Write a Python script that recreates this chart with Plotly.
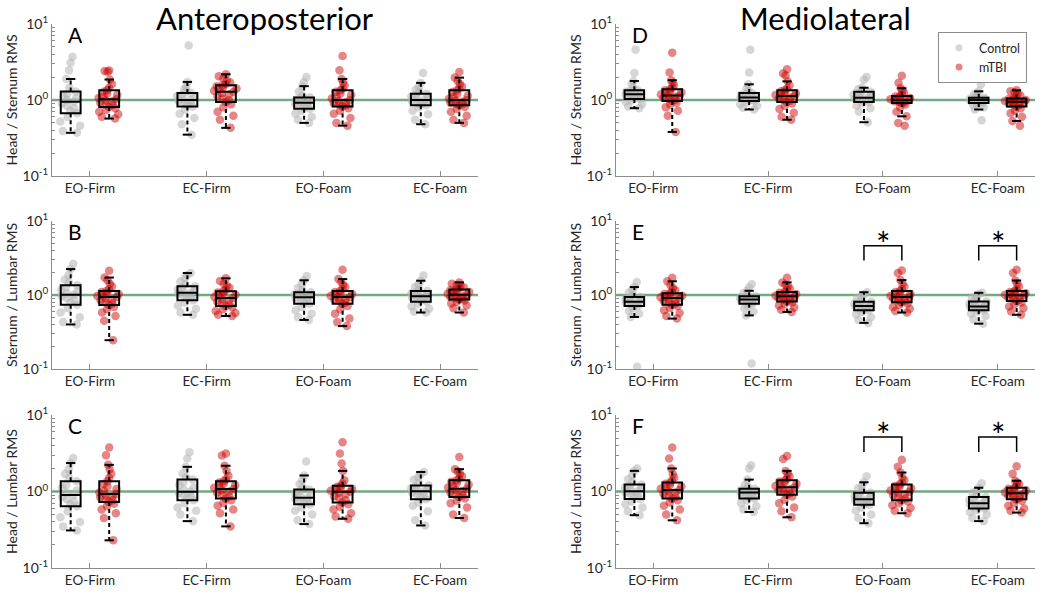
import numpy as np
import plotly.graph_objects as go

conditions = ["EO-Firm", "EC-Firm", "EO-Foam", "EC-Foam"]
groups = ["Control", "mTBI"]
panel_letters = ["A", "B", "C", "D", "E", "F"]
row_titles = ["Head / Sternum RMS", "Sternum / Lumbar RMS", "Head / Lumbar RMS"]
col_titles = ["Anteroposterior", "Mediolateral"]

# ---- Anteroposterior ----
A_control = [
    [0.37, 0.39, 0.46, 0.52, 0.6, 0.67, 0.72, 0.78, 0.84, 0.9, 0.95, 1.0, 1.06, 1.12, 1.2, 1.29, 1.45, 1.89, 2.47, 3.1, 3.7],
    [0.35, 0.48, 0.58, 0.66, 0.75, 0.82, 0.86, 0.9, 0.94, 0.97, 1.0, 1.03, 1.07, 1.12, 1.18, 1.24, 1.3, 1.38, 1.5, 1.73, 5.2],
    [0.5, 0.55, 0.6, 0.66, 0.72, 0.77, 0.8, 0.83, 0.86, 0.89, 0.92, 0.95, 0.98, 1.01, 1.04, 1.08, 1.15, 1.28, 1.52, 1.72, 2.0],
    [0.48, 0.55, 0.65, 0.72, 0.8, 0.85, 0.88, 0.91, 0.94, 0.97, 1.0, 1.03, 1.07, 1.11, 1.16, 1.21, 1.28, 1.36, 1.5, 1.68, 2.27],
]
A_mtbi = [
    [0.57, 0.6, 0.65, 0.7, 0.74, 0.78, 0.81, 0.85, 0.88, 0.92, 0.96, 0.99, 1.02, 1.06, 1.1, 1.16, 1.22, 1.28, 1.34, 1.45, 1.62, 1.86, 2.36, 2.4, 2.44],
    [0.43, 0.55, 0.62, 0.7, 0.8, 0.88, 0.94, 0.99, 1.05, 1.12, 1.18, 1.23, 1.28, 1.32, 1.37, 1.42, 1.47, 1.52, 1.56, 1.62, 1.7, 1.8, 1.92, 2.05, 2.18],
    [0.46, 0.5, 0.58, 0.66, 0.72, 0.78, 0.82, 0.85, 0.88, 0.91, 0.94, 0.97, 1.0, 1.05, 1.1, 1.16, 1.22, 1.28, 1.34, 1.42, 1.55, 1.7, 1.89, 2.47, 3.8],
    [0.5, 0.55, 0.62, 0.7, 0.76, 0.81, 0.85, 0.88, 0.9, 0.93, 0.95, 0.98, 1.0, 1.04, 1.09, 1.14, 1.2, 1.27, 1.34, 1.42, 1.5, 1.62, 1.78, 1.97, 2.34],
]
B_control = [
    [0.4, 0.43, 0.5, 0.58, 0.66, 0.74, 0.8, 0.86, 0.91, 0.96, 1.01, 1.06, 1.12, 1.18, 1.26, 1.35, 1.48, 1.62, 1.85, 2.24, 2.64],
    [0.54, 0.58, 0.65, 0.72, 0.79, 0.85, 0.9, 0.94, 0.98, 1.03, 1.07, 1.1, 1.14, 1.19, 1.25, 1.31, 1.4, 1.52, 1.7, 1.85, 1.98],
    [0.46, 0.5, 0.56, 0.62, 0.69, 0.76, 0.79, 0.83, 0.86, 0.9, 0.93, 0.96, 0.99, 1.02, 1.05, 1.09, 1.16, 1.25, 1.4, 1.58, 1.8],
    [0.58, 0.6, 0.65, 0.7, 0.76, 0.81, 0.84, 0.87, 0.9, 0.93, 0.96, 0.99, 1.02, 1.05, 1.09, 1.13, 1.2, 1.28, 1.4, 1.56, 1.84],
]
B_mtbi = [
    [0.245, 0.45, 0.52, 0.58, 0.64, 0.69, 0.73, 0.77, 0.8, 0.84, 0.87, 0.91, 0.94, 0.97, 1.0, 1.03, 1.06, 1.1, 1.13, 1.2, 1.3, 1.42, 1.58, 1.72, 2.13],
    [0.52, 0.54, 0.57, 0.61, 0.64, 0.68, 0.71, 0.74, 0.78, 0.81, 0.85, 0.88, 0.91, 0.94, 0.98, 1.01, 1.05, 1.08, 1.12, 1.18, 1.25, 1.33, 1.42, 1.55, 1.68],
    [0.38, 0.43, 0.48, 0.56, 0.64, 0.71, 0.76, 0.79, 0.83, 0.86, 0.89, 0.92, 0.94, 0.97, 1.0, 1.03, 1.06, 1.1, 1.13, 1.2, 1.28, 1.38, 1.5, 1.64, 2.2],
    [0.58, 0.66, 0.72, 0.77, 0.81, 0.84, 0.87, 0.89, 0.92, 0.94, 0.96, 0.99, 1.01, 1.04, 1.07, 1.1, 1.13, 1.16, 1.19, 1.23, 1.27, 1.32, 1.37, 1.42, 1.48],
]
C_control = [
    [0.31, 0.35, 0.4, 0.46, 0.55, 0.64, 0.69, 0.74, 0.79, 0.85, 0.9, 0.96, 1.03, 1.12, 1.22, 1.36, 1.5, 1.7, 1.95, 2.36, 2.75],
    [0.41, 0.5, 0.56, 0.62, 0.7, 0.77, 0.82, 0.86, 0.9, 0.95, 0.99, 1.05, 1.12, 1.22, 1.32, 1.43, 1.55, 1.72, 2.1, 2.7, 3.26],
    [0.375, 0.42, 0.5, 0.56, 0.62, 0.68, 0.71, 0.74, 0.77, 0.8, 0.83, 0.86, 0.9, 0.95, 1.0, 1.06, 1.14, 1.25, 1.4, 1.62, 2.46],
    [0.36, 0.42, 0.55, 0.65, 0.72, 0.79, 0.84, 0.88, 0.92, 0.97, 1.01, 1.04, 1.07, 1.1, 1.15, 1.2, 1.3, 1.42, 1.55, 1.68, 1.8],
]
C_mtbi = [
    [0.23, 0.45, 0.52, 0.58, 0.64, 0.69, 0.73, 0.77, 0.8, 0.84, 0.87, 0.9, 0.93, 0.97, 1.02, 1.08, 1.16, 1.25, 1.36, 1.5, 1.7, 1.95, 2.23, 2.97, 3.75],
    [0.35, 0.52, 0.58, 0.65, 0.71, 0.77, 0.81, 0.86, 0.91, 0.96, 1.0, 1.04, 1.08, 1.12, 1.16, 1.21, 1.26, 1.31, 1.36, 1.45, 1.6, 1.85, 2.17, 2.95, 3.13],
    [0.44, 0.47, 0.52, 0.58, 0.63, 0.68, 0.72, 0.77, 0.82, 0.87, 0.92, 0.96, 0.99, 1.02, 1.05, 1.08, 1.12, 1.15, 1.19, 1.28, 1.4, 1.86, 2.32, 3.13, 4.4],
    [0.45, 0.5, 0.62, 0.7, 0.76, 0.81, 0.85, 0.89, 0.93, 0.97, 1.01, 1.05, 1.09, 1.13, 1.18, 1.23, 1.29, 1.34, 1.4, 1.48, 1.58, 1.7, 1.82, 1.96, 2.83],
]
# ---- Mediolateral ----
D_control = [
    [0.78, 0.82, 0.88, 0.94, 0.99, 1.03, 1.07, 1.1, 1.13, 1.16, 1.19, 1.22, 1.25, 1.28, 1.31, 1.34, 1.45, 1.62, 1.78, 2.27, 4.6],
    [0.75, 0.79, 0.84, 0.88, 0.93, 0.97, 0.99, 1.01, 1.03, 1.05, 1.08, 1.11, 1.14, 1.17, 1.2, 1.24, 1.32, 1.42, 1.61, 2.3, 4.6],
    [0.51, 0.7, 0.78, 0.84, 0.9, 0.94, 0.97, 1.0, 1.02, 1.05, 1.07, 1.1, 1.14, 1.18, 1.23, 1.28, 1.33, 1.38, 1.45, 1.84, 2.0],
    [0.54, 0.75, 0.8, 0.85, 0.88, 0.91, 0.93, 0.95, 0.97, 0.98, 1.0, 1.01, 1.02, 1.04, 1.05, 1.07, 1.12, 1.18, 1.24, 1.3, 1.6],
]
D_mtbi = [
    [0.38, 0.62, 0.72, 0.8, 0.87, 0.92, 0.97, 1.0, 1.03, 1.07, 1.1, 1.12, 1.15, 1.18, 1.22, 1.26, 1.3, 1.34, 1.38, 1.45, 1.55, 1.68, 1.82, 2.3, 4.2],
    [0.55, 0.6, 0.68, 0.76, 0.84, 0.9, 0.94, 0.98, 1.01, 1.05, 1.08, 1.1, 1.13, 1.16, 1.2, 1.23, 1.27, 1.3, 1.34, 1.42, 1.55, 1.76, 2.1, 2.23, 2.54],
    [0.46, 0.5, 0.61, 0.7, 0.8, 0.87, 0.91, 0.93, 0.95, 0.96, 0.97, 0.99, 1.0, 1.02, 1.04, 1.06, 1.08, 1.11, 1.13, 1.18, 1.25, 1.33, 1.43, 1.69, 2.08],
    [0.46, 0.53, 0.6, 0.67, 0.73, 0.78, 0.82, 0.85, 0.87, 0.89, 0.91, 0.93, 0.95, 0.97, 0.98, 1.0, 1.01, 1.03, 1.05, 1.1, 1.15, 1.2, 1.26, 1.3, 1.34],
]
E_control = [
    [0.107, 0.505, 0.56, 0.61, 0.66, 0.71, 0.73, 0.75, 0.77, 0.79, 0.81, 0.83, 0.85, 0.88, 0.91, 0.94, 1.0, 1.08, 1.18, 1.28, 1.5],
    [0.119, 0.53, 0.6, 0.66, 0.71, 0.76, 0.78, 0.8, 0.82, 0.85, 0.87, 0.89, 0.9, 0.92, 0.94, 0.96, 1.0, 1.06, 1.14, 1.26, 1.4],
    [0.42, 0.46, 0.5, 0.55, 0.59, 0.62, 0.64, 0.66, 0.68, 0.7, 0.71, 0.73, 0.75, 0.77, 0.79, 0.81, 0.85, 0.9, 0.96, 1.02, 1.09],
    [0.41, 0.47, 0.52, 0.56, 0.6, 0.62, 0.64, 0.66, 0.67, 0.69, 0.7, 0.72, 0.74, 0.76, 0.79, 0.82, 0.87, 0.92, 0.97, 1.02, 1.07],
]
E_mtbi = [
    [0.48, 0.52, 0.57, 0.62, 0.67, 0.71, 0.74, 0.77, 0.8, 0.83, 0.86, 0.89, 0.91, 0.93, 0.95, 0.98, 1.0, 1.03, 1.06, 1.1, 1.16, 1.24, 1.35, 1.53, 1.71],
    [0.59, 0.63, 0.68, 0.72, 0.76, 0.79, 0.82, 0.85, 0.87, 0.9, 0.92, 0.94, 0.96, 0.98, 1.0, 1.03, 1.05, 1.07, 1.1, 1.16, 1.22, 1.3, 1.38, 1.48, 1.71],
    [0.58, 0.61, 0.65, 0.69, 0.73, 0.77, 0.8, 0.83, 0.85, 0.88, 0.9, 0.92, 0.94, 0.97, 1.0, 1.03, 1.06, 1.1, 1.13, 1.2, 1.3, 1.42, 1.59, 1.98, 2.15],
    [0.54, 0.6, 0.66, 0.7, 0.75, 0.79, 0.83, 0.86, 0.89, 0.92, 0.95, 0.97, 0.99, 1.01, 1.03, 1.06, 1.08, 1.1, 1.13, 1.2, 1.3, 1.42, 1.57, 1.98, 2.2],
]
F_control = [
    [0.49, 0.55, 0.62, 0.68, 0.74, 0.8, 0.85, 0.89, 0.93, 0.97, 1.01, 1.05, 1.09, 1.13, 1.18, 1.23, 1.32, 1.45, 1.62, 1.86, 2.0],
    [0.54, 0.58, 0.64, 0.7, 0.76, 0.81, 0.84, 0.87, 0.9, 0.94, 0.97, 0.99, 1.01, 1.04, 1.06, 1.09, 1.15, 1.22, 1.43, 2.0, 2.2],
    [0.385, 0.45, 0.5, 0.56, 0.62, 0.67, 0.7, 0.72, 0.75, 0.77, 0.79, 0.82, 0.85, 0.88, 0.92, 0.96, 1.02, 1.1, 1.2, 1.32, 1.58],
    [0.41, 0.45, 0.5, 0.54, 0.57, 0.6, 0.62, 0.64, 0.66, 0.68, 0.7, 0.72, 0.75, 0.78, 0.81, 0.85, 0.9, 0.96, 1.03, 1.12, 1.28],
]
F_mtbi = [
    [0.42, 0.5, 0.58, 0.65, 0.72, 0.77, 0.81, 0.85, 0.89, 0.93, 0.97, 1.01, 1.05, 1.09, 1.13, 1.17, 1.22, 1.26, 1.31, 1.4, 1.52, 1.7, 2.0, 2.7, 3.75],
    [0.46, 0.55, 0.62, 0.7, 0.78, 0.86, 0.91, 0.95, 0.99, 1.03, 1.07, 1.1, 1.14, 1.18, 1.22, 1.26, 1.31, 1.35, 1.4, 1.48, 1.58, 1.7, 1.86, 2.66, 2.92],
    [0.52, 0.56, 0.61, 0.66, 0.7, 0.74, 0.77, 0.81, 0.85, 0.89, 0.93, 0.96, 0.99, 1.03, 1.07, 1.1, 1.14, 1.18, 1.23, 1.3, 1.4, 1.52, 1.77, 2.1, 2.6],
    [0.53, 0.56, 0.6, 0.65, 0.7, 0.75, 0.79, 0.82, 0.85, 0.88, 0.9, 0.93, 0.95, 0.97, 1.0, 1.03, 1.06, 1.09, 1.12, 1.18, 1.24, 1.3, 1.38, 1.7, 2.14],
]

# significance brackets (panels E and F): leg bottom, bracket top, star level
sig_conditions = ["EO-Foam", "EC-Foam"]
sig_E = (2.93, 4.62, 4.9)
sig_F = (3.29, 5.17, 5.6)

panels_control = [A_control, B_control, C_control, D_control, E_control, F_control]
panels_mtbi = [A_mtbi, B_mtbi, C_mtbi, D_mtbi, E_mtbi, F_mtbi]
panel_sig = [None, None, None, None, sig_E, sig_F]

# ---- styling / layout ----
FONT = "Lato"
AX_COL = "#8c8c8c"
TXT_COL = "#262626"
CTRL_COL = "rgba(180,180,180,0.55)"
MTBI_COL = "rgba(200,0,0,0.48)"
OFFSET = 0.165
BOX_W = 0.17
CAP_HALF = 0.04
W, H = 1050, 599
col_px = [(52, 478), (616, 1035)]
row_px = [(24, 176), (221, 369), (415, 568)]
XRANGE = [0.675, 4.325]

fig = go.Figure()
layout = dict(
    width=W, height=H, margin=dict(l=0, r=0, t=0, b=0, autoexpand=False),
    paper_bgcolor="white", plot_bgcolor="white",
    font=dict(family=FONT, color=TXT_COL, size=14),
    showlegend=True,
)
annotations = []
shapes = []
minor_vals = [m * 10.0 ** e for e in (-1, 0) for m in range(2, 10)]


def stats(vals):
    v = np.asarray(vals, dtype=float)
    q1, med, q3 = np.percentile(v, [25, 50, 75])
    iqr = q3 - q1
    lo = v[v >= q1 - 1.5 * iqr].min()
    hi = v[v <= q3 + 1.5 * iqr].max()
    return q1, med, q3, lo, hi


for p in range(6):
    col, row = p // 3, p % 3
    n = p + 1
    xa = "x" if n == 1 else f"x{n}"
    ya = "y" if n == 1 else f"y{n}"
    xl, xr = col_px[col]
    yt, yb = row_px[row]
    layout[f"xaxis{'' if n == 1 else n}"] = dict(
        domain=[xl / W, xr / W], anchor=ya, range=XRANGE, automargin=False,
        tickmode="array", tickvals=[1, 2, 3, 4], ticktext=conditions,
        ticks="inside", ticklen=5, tickcolor=AX_COL, showline=True, linecolor=AX_COL,
        linewidth=1, showgrid=False, zeroline=False, tickfont=dict(size=13.5, color=TXT_COL),
    )
    layout[f"yaxis{'' if n == 1 else n}"] = dict(
        domain=[1 - yb / H, 1 - yt / H], anchor=xa, type="log", range=[-1, 1], automargin=False,
        tickmode="array", tickvals=[0.1, 1, 10],
        ticktext=["10<sup>-1</sup>", "10<sup>0</sup>", "10<sup>1</sup>"],
        ticks="inside", ticklen=5, tickcolor=AX_COL, showline=True, linecolor=AX_COL,
        linewidth=1, showgrid=False, zeroline=False, tickfont=dict(size=14, color=TXT_COL),
        minor=dict(tickmode="array", tickvals=minor_vals, ticks="inside", ticklen=3, tickcolor=AX_COL),
        title=dict(text=row_titles[row], font=dict(size=14, color=TXT_COL), standoff=1),
    )
    # reference line at ratio 1
    shapes.append(dict(type="line", xref=f"{xa} domain", yref=ya, x0=0, x1=1, y0=1, y1=1,
                       line=dict(color="rgba(70,140,90,0.75)", width=2.5), layer="below"))
    # panel letter
    annotations.append(dict(text=panel_letters[p], xref=f"{xa} domain", yref=f"{ya} domain",
                            x=0.033, y=0.93, xanchor="left", yanchor="middle", showarrow=False,
                            font=dict(size=21, color="black")))

    wx, wy, cx, cy = [], [], [], []
    for gi, (data, colr) in enumerate(((panels_control[p], CTRL_COL), (panels_mtbi[p], MTBI_COL))):
        for ci, vals in enumerate(data):
            xpos = ci + 1 + (-OFFSET if gi == 0 else OFFSET)
            fig.add_trace(go.Box(
                x0=xpos, y=vals, xaxis=xa, yaxis=ya, boxpoints="all", jitter=1.0, pointpos=0,
                width=0.21, line=dict(color="rgba(0,0,0,0)", width=0), fillcolor="rgba(0,0,0,0)",
                marker=dict(color=colr, size=8.5, line=dict(width=0)), showlegend=False,
                hoveron="points", name=groups[gi],
            ))
            q1, med, q3, lo, hi = stats(vals)
            fig.add_trace(go.Box(
                x=[xpos], q1=[q1], median=[med], q3=[q3], lowerfence=[q1], upperfence=[q3],
                xaxis=xa, yaxis=ya, width=BOX_W, whiskerwidth=0,
                line=dict(color="black", width=2), fillcolor="rgba(0,0,0,0)",
                boxpoints=False, showlegend=False, name=groups[gi], hoverinfo="skip",
            ))
            wx += [xpos, xpos, None, xpos, xpos, None]
            wy += [q3, hi, None, q1, lo, None]
            cx += [xpos - CAP_HALF, xpos + CAP_HALF, None, xpos - CAP_HALF, xpos + CAP_HALF, None]
            cy += [hi, hi, None, lo, lo, None]
    fig.add_trace(go.Scatter(x=wx, y=wy, xaxis=xa, yaxis=ya, mode="lines",
                             line=dict(color="black", width=2, dash="4px,3px"),
                             showlegend=False, hoverinfo="skip"))
    fig.add_trace(go.Scatter(x=cx, y=cy, xaxis=xa, yaxis=ya, mode="lines",
                             line=dict(color="black", width=2), showlegend=False, hoverinfo="skip"))

    sig = panel_sig[p]
    if sig is not None:
        leg, top, star = sig
        bx, by = [], []
        for cond in sig_conditions:
            ci = conditions.index(cond) + 1
            bx += [ci - OFFSET, ci - OFFSET, ci + OFFSET, ci + OFFSET, None]
            by += [leg, top, top, leg, None]
            annotations.append(dict(text="*", xref=xa, yref=ya, x=ci, y=np.log10(star),
                                    showarrow=False, font=dict(size=34, color="black"),
                                    yanchor="middle"))
        fig.add_trace(go.Scatter(x=bx, y=by, xaxis=xa, yaxis=ya, mode="lines",
                                 line=dict(color="black", width=1.5), showlegend=False,
                                 hoverinfo="skip"))

# column titles
for c in range(2):
    xl, xr = col_px[c]
    annotations.append(dict(text=col_titles[c], xref="paper", yref="paper",
                            x=(xl + xr) / 2 / W, y=1 - 18 / H, xanchor="center", yanchor="middle",
                            showarrow=False, font=dict(size=31, color="black")))

# legend entries
fig.add_trace(go.Scatter(x=[None], y=[None], mode="markers", name=groups[0], xaxis="x4", yaxis="y4",
                         marker=dict(color=CTRL_COL, size=7)))
fig.add_trace(go.Scatter(x=[None], y=[None], mode="markers", name=groups[1], xaxis="x4", yaxis="y4",
                         marker=dict(color=MTBI_COL, size=7)))

layout["legend"] = dict(x=1027 / W, y=1 - 32 / H, xanchor="right", yanchor="top",
                        bordercolor=AX_COL, borderwidth=1, bgcolor="white",
                        font=dict(size=12.5, color=TXT_COL), itemwidth=30, tracegroupgap=0)
layout["annotations"] = annotations
layout["shapes"] = shapes
layout["boxmode"] = "overlay"
fig.update_layout(**layout)
fig.write_html("out.html", config={"displayModeBar": False},
               post_script="document.body.style.margin='0px';document.body.style.padding='0px';")
